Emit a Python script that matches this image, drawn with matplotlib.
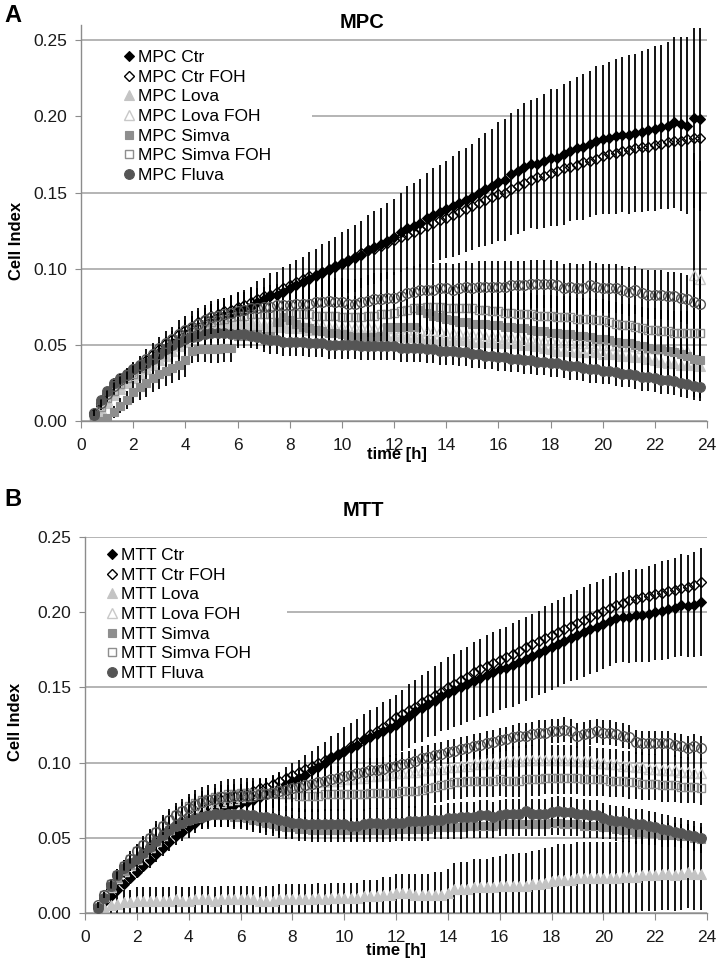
import numpy as np
import matplotlib.pyplot as plt
from matplotlib.lines import Line2D
from matplotlib.patches import Rectangle

plt.rcParams['font.family'] = ['Liberation Sans', 'DejaVu Sans']

# read-outs every 15 min, 0.5 h .. 23.75 h (94 points)
time_h = np.arange(0.5, 24.0, 0.25)

# ---------------- Panel A : MPC ----------------
mpc_ctr = [
    0.005, 0.010, 0.015, 0.019, 0.023, 0.027, 0.031, 0.034,
    0.038, 0.041, 0.045, 0.048, 0.051, 0.054, 0.057, 0.060,
    0.062, 0.064, 0.066, 0.068, 0.069, 0.070, 0.072, 0.073,
    0.075, 0.078, 0.080, 0.082, 0.083, 0.085, 0.087, 0.089,
    0.091, 0.093, 0.095, 0.097, 0.099, 0.101, 0.103, 0.105,
    0.107, 0.109, 0.112, 0.114, 0.116, 0.118, 0.121, 0.124,
    0.127, 0.128, 0.130, 0.133, 0.135, 0.137, 0.139, 0.141,
    0.143, 0.145, 0.147, 0.150, 0.152, 0.154, 0.157, 0.158,
    0.162, 0.164, 0.167, 0.169, 0.169, 0.171, 0.173, 0.173,
    0.175, 0.177, 0.179, 0.180, 0.182, 0.184, 0.185, 0.186,
    0.187, 0.188, 0.188, 0.189, 0.190, 0.191, 0.192, 0.193,
    0.194, 0.196, 0.195, 0.194, 0.199, 0.198]
mpc_ctr_foh = [
    0.005, 0.011, 0.016, 0.021, 0.025, 0.029, 0.033, 0.036,
    0.040, 0.044, 0.047, 0.051, 0.054, 0.057, 0.060, 0.062,
    0.065, 0.067, 0.069, 0.070, 0.072, 0.073, 0.075, 0.076,
    0.078, 0.080, 0.082, 0.083, 0.085, 0.087, 0.089, 0.091,
    0.093, 0.095, 0.096, 0.098, 0.100, 0.102, 0.104, 0.106,
    0.108, 0.110, 0.112, 0.113, 0.115, 0.117, 0.119, 0.121,
    0.122, 0.124, 0.126, 0.128, 0.130, 0.132, 0.133, 0.135,
    0.137, 0.139, 0.141, 0.143, 0.145, 0.147, 0.149, 0.150,
    0.152, 0.154, 0.156, 0.158, 0.160, 0.161, 0.163, 0.164,
    0.166, 0.167, 0.168, 0.170, 0.171, 0.172, 0.174, 0.175,
    0.176, 0.177, 0.178, 0.179, 0.180, 0.180, 0.181, 0.182,
    0.183, 0.184, 0.184, 0.185, 0.186, 0.186]
mpc_lova = [
    0.000, 0.006, 0.012, 0.017, 0.021, 0.025, 0.028, 0.031,
    0.034, 0.037, 0.040, 0.043, 0.046, 0.049, 0.052, 0.055,
    0.057, 0.059, 0.061, 0.062, 0.063, 0.063, 0.063, 0.064,
    0.064, 0.063, 0.063, 0.062, 0.062, 0.062, 0.061, 0.061,
    0.061, 0.060, 0.060, 0.060, 0.059, 0.059, 0.059, 0.058,
    0.058, 0.058, 0.057, 0.057, 0.057, 0.056, 0.056, 0.056,
    0.055, 0.055, 0.055, 0.054, 0.054, 0.054, 0.053, 0.053,
    0.053, 0.053, 0.052, 0.052, 0.052, 0.052, 0.051, 0.051,
    0.051, 0.051, 0.050, 0.050, 0.049, 0.048, 0.047, 0.046,
    0.046, 0.046, 0.045, 0.045, 0.045, 0.045, 0.044, 0.044,
    0.044, 0.043, 0.043, 0.042, 0.042, 0.041, 0.040, 0.039,
    0.038, 0.038, 0.037, 0.037, 0.037, 0.036]
mpc_lova_foh = [
    0.002, 0.008, 0.014, 0.019, 0.023, 0.027, 0.030, 0.034,
    0.037, 0.040, 0.043, 0.046, 0.049, 0.052, 0.055, 0.058,
    0.060, 0.062, 0.063, 0.064, 0.065, 0.065, 0.065, 0.065,
    0.065, 0.065, 0.064, 0.064, 0.064, 0.064, 0.064, 0.063,
    0.063, 0.063, 0.063, 0.063, 0.062, 0.062, 0.062, 0.062,
    0.062, 0.062, 0.062, 0.061, 0.061, 0.061, 0.061, 0.060,
    0.060, 0.060, 0.060, 0.059, 0.059, 0.059, 0.058, 0.058,
    0.058, 0.057, 0.057, 0.057, 0.056, 0.056, 0.056, 0.055,
    0.055, 0.055, 0.054, 0.054, 0.053, 0.053, 0.053, 0.052,
    0.052, 0.052, 0.051, 0.051, 0.051, 0.050, 0.050, 0.050,
    0.050, 0.049, 0.049, 0.049, 0.048, 0.048, 0.048, 0.047,
    0.047, 0.047, 0.046, 0.046, 0.096, 0.093]
mpc_simva = [
    0.000, 0.000, 0.002, 0.006, 0.010, 0.014, 0.019, 0.022,
    0.025, 0.028, 0.031, 0.033, 0.035, 0.037, 0.040, 0.046,
    0.047, 0.047, 0.047, 0.047, 0.048, 0.048, 0.056, 0.056,
    0.057, 0.057, 0.056, 0.056, 0.065, 0.068, 0.066, 0.064,
    0.062, 0.061, 0.060, 0.059, 0.058, 0.058, 0.057, 0.056,
    0.055, 0.055, 0.055, 0.055, 0.056, 0.062, 0.062, 0.062,
    0.062, 0.062, 0.073, 0.071, 0.069, 0.068, 0.067, 0.066,
    0.065, 0.065, 0.064, 0.064, 0.064, 0.063, 0.063, 0.062,
    0.062, 0.061, 0.061, 0.060, 0.059, 0.059, 0.058, 0.058,
    0.057, 0.057, 0.056, 0.056, 0.055, 0.054, 0.054, 0.053,
    0.052, 0.051, 0.051, 0.050, 0.049, 0.048, 0.047, 0.047,
    0.046, 0.045, 0.044, 0.043, 0.041, 0.040]
mpc_simva_foh = [
    0.003, 0.009, 0.015, 0.020, 0.024, 0.028, 0.031, 0.035,
    0.038, 0.041, 0.044, 0.047, 0.050, 0.053, 0.056, 0.059,
    0.061, 0.063, 0.065, 0.066, 0.067, 0.068, 0.069, 0.069,
    0.070, 0.070, 0.070, 0.070, 0.070, 0.070, 0.070, 0.070,
    0.070, 0.070, 0.069, 0.069, 0.069, 0.069, 0.068, 0.068,
    0.068, 0.068, 0.069, 0.069, 0.070, 0.070, 0.071, 0.072,
    0.073, 0.074, 0.074, 0.075, 0.075, 0.075, 0.074, 0.074,
    0.074, 0.074, 0.074, 0.073, 0.073, 0.072, 0.072, 0.071,
    0.071, 0.070, 0.070, 0.070, 0.069, 0.069, 0.069, 0.068,
    0.068, 0.068, 0.067, 0.067, 0.067, 0.066, 0.066, 0.065,
    0.064, 0.063, 0.063, 0.062, 0.061, 0.060, 0.060, 0.059,
    0.059, 0.058, 0.058, 0.058, 0.058, 0.058]
mpc_fluva = [
    0.004, 0.014, 0.020, 0.025, 0.028, 0.031, 0.034, 0.036,
    0.038, 0.041, 0.044, 0.047, 0.050, 0.052, 0.054, 0.055,
    0.056, 0.057, 0.058, 0.058, 0.058, 0.057, 0.057, 0.057,
    0.056, 0.055, 0.054, 0.053, 0.053, 0.052, 0.052, 0.052,
    0.052, 0.051, 0.051, 0.051, 0.050, 0.050, 0.050, 0.050,
    0.050, 0.049, 0.049, 0.049, 0.049, 0.049, 0.049, 0.048,
    0.048, 0.048, 0.048, 0.047, 0.047, 0.046, 0.046, 0.046,
    0.045, 0.045, 0.044, 0.044, 0.043, 0.043, 0.042, 0.042,
    0.041, 0.041, 0.040, 0.040, 0.039, 0.039, 0.038, 0.038,
    0.037, 0.036, 0.036, 0.035, 0.034, 0.034, 0.033, 0.033,
    0.032, 0.031, 0.031, 0.030, 0.029, 0.029, 0.028, 0.027,
    0.027, 0.026, 0.025, 0.024, 0.023, 0.022]
mpc_fluva_foh = [
    0.005, 0.012, 0.018, 0.023, 0.027, 0.030, 0.034, 0.037,
    0.041, 0.044, 0.048, 0.051, 0.054, 0.057, 0.060, 0.062,
    0.064, 0.066, 0.068, 0.069, 0.070, 0.071, 0.072, 0.073,
    0.074, 0.074, 0.075, 0.075, 0.076, 0.076, 0.076, 0.077,
    0.077, 0.077, 0.078, 0.078, 0.079, 0.078, 0.078, 0.077,
    0.077, 0.078, 0.079, 0.080, 0.080, 0.081, 0.081, 0.082,
    0.084, 0.085, 0.086, 0.086, 0.086, 0.087, 0.087, 0.086,
    0.087, 0.088, 0.087, 0.088, 0.088, 0.088, 0.088, 0.088,
    0.089, 0.089, 0.089, 0.090, 0.090, 0.090, 0.090, 0.089,
    0.087, 0.088, 0.087, 0.087, 0.089, 0.088, 0.087, 0.087,
    0.087, 0.086, 0.085, 0.086, 0.084, 0.083, 0.083, 0.083,
    0.082, 0.082, 0.081, 0.080, 0.078, 0.077]

# standard deviations (MPC)
mpc_ctr_sd = [
    0.002, 0.002, 0.003, 0.003, 0.004, 0.004, 0.005, 0.005,
    0.006, 0.006, 0.007, 0.007, 0.008, 0.008, 0.009, 0.009,
    0.010, 0.010, 0.011, 0.011, 0.012, 0.012, 0.013, 0.013,
    0.013, 0.014, 0.014, 0.015, 0.015, 0.016, 0.016, 0.017,
    0.017, 0.018, 0.018, 0.019, 0.019, 0.020, 0.021, 0.021,
    0.022, 0.022, 0.023, 0.024, 0.024, 0.025, 0.025, 0.026,
    0.027, 0.028, 0.029, 0.030, 0.031, 0.031, 0.032, 0.033,
    0.034, 0.034, 0.035, 0.036, 0.037, 0.038, 0.039, 0.040,
    0.040, 0.041, 0.042, 0.042, 0.043, 0.044, 0.045, 0.045,
    0.046, 0.046, 0.047, 0.048, 0.048, 0.049, 0.049, 0.050,
    0.051, 0.051, 0.052, 0.052, 0.053, 0.053, 0.054, 0.054,
    0.055, 0.056, 0.057, 0.058, 0.059, 0.060]
mpc_lova_sd = [
    0.001, 0.002, 0.002, 0.003, 0.003, 0.004, 0.004, 0.005,
    0.005, 0.006, 0.006, 0.007, 0.007, 0.008, 0.008, 0.008,
    0.009, 0.009, 0.009, 0.009, 0.010, 0.010, 0.010, 0.010,
    0.010, 0.010, 0.010, 0.010, 0.010, 0.010, 0.010, 0.010,
    0.010, 0.010, 0.010, 0.010, 0.010, 0.010, 0.010, 0.010,
    0.010, 0.010, 0.010, 0.010, 0.010, 0.010, 0.010, 0.010,
    0.010, 0.010, 0.010, 0.010, 0.010, 0.010, 0.010, 0.010,
    0.010, 0.010, 0.010, 0.010, 0.010, 0.010, 0.010, 0.010,
    0.010, 0.010, 0.010, 0.010, 0.010, 0.010, 0.010, 0.010,
    0.010, 0.010, 0.010, 0.010, 0.010, 0.010, 0.010, 0.010,
    0.010, 0.010, 0.010, 0.010, 0.010, 0.010, 0.010, 0.010,
    0.010, 0.010, 0.010, 0.010, 0.010, 0.010]
mpc_lova_foh_sd = [
    0.001, 0.002, 0.002, 0.003, 0.003, 0.003, 0.004, 0.004,
    0.004, 0.005, 0.005, 0.005, 0.005, 0.006, 0.006, 0.006,
    0.006, 0.006, 0.006, 0.006, 0.006, 0.006, 0.006, 0.006,
    0.006, 0.006, 0.006, 0.006, 0.006, 0.006, 0.006, 0.006,
    0.006, 0.006, 0.006, 0.006, 0.006, 0.006, 0.006, 0.006,
    0.006, 0.006, 0.006, 0.006, 0.006, 0.006, 0.006, 0.006,
    0.006, 0.006, 0.006, 0.006, 0.006, 0.006, 0.006, 0.006,
    0.006, 0.006, 0.006, 0.006, 0.006, 0.006, 0.006, 0.006,
    0.006, 0.006, 0.006, 0.006, 0.006, 0.006, 0.006, 0.006,
    0.006, 0.006, 0.006, 0.006, 0.006, 0.006, 0.006, 0.006,
    0.006, 0.006, 0.006, 0.006, 0.006, 0.006, 0.006, 0.006,
    0.006, 0.006, 0.006, 0.006, 0.080, 0.078]
mpc_simva_sd = [
    0.000, 0.001, 0.002, 0.004, 0.005, 0.006, 0.007, 0.008,
    0.009, 0.009, 0.010, 0.010, 0.010, 0.010, 0.011, 0.008,
    0.008, 0.008, 0.009, 0.009, 0.009, 0.009, 0.008, 0.008,
    0.008, 0.008, 0.008, 0.008, 0.009, 0.009, 0.009, 0.009,
    0.009, 0.009, 0.009, 0.009, 0.009, 0.009, 0.009, 0.009,
    0.009, 0.009, 0.009, 0.009, 0.009, 0.010, 0.010, 0.010,
    0.010, 0.010, 0.011, 0.011, 0.011, 0.011, 0.011, 0.011,
    0.011, 0.011, 0.011, 0.011, 0.011, 0.011, 0.011, 0.011,
    0.011, 0.011, 0.011, 0.011, 0.011, 0.011, 0.011, 0.011,
    0.011, 0.011, 0.011, 0.011, 0.011, 0.011, 0.011, 0.011,
    0.011, 0.011, 0.011, 0.011, 0.011, 0.011, 0.011, 0.011,
    0.011, 0.011, 0.011, 0.011, 0.011, 0.011]
mpc_simva_foh_sd = [
    0.002, 0.002, 0.003, 0.003, 0.003, 0.004, 0.004, 0.004,
    0.005, 0.005, 0.005, 0.006, 0.006, 0.006, 0.007, 0.007,
    0.008, 0.008, 0.009, 0.009, 0.010, 0.010, 0.010, 0.011,
    0.011, 0.011, 0.012, 0.012, 0.012, 0.013, 0.013, 0.013,
    0.013, 0.013, 0.013, 0.014, 0.014, 0.014, 0.014, 0.014,
    0.014, 0.014, 0.014, 0.014, 0.014, 0.014, 0.014, 0.014,
    0.014, 0.014, 0.014, 0.014, 0.014, 0.014, 0.014, 0.014,
    0.014, 0.014, 0.014, 0.014, 0.014, 0.014, 0.014, 0.014,
    0.014, 0.014, 0.014, 0.014, 0.014, 0.014, 0.014, 0.014,
    0.014, 0.014, 0.014, 0.014, 0.014, 0.014, 0.014, 0.014,
    0.014, 0.014, 0.014, 0.014, 0.014, 0.014, 0.014, 0.014,
    0.014, 0.014, 0.014, 0.014, 0.014, 0.014]
mpc_fluva_sd = [
    0.001, 0.002, 0.002, 0.003, 0.003, 0.003, 0.004, 0.004,
    0.004, 0.005, 0.005, 0.005, 0.006, 0.006, 0.006, 0.006,
    0.007, 0.007, 0.007, 0.007, 0.007, 0.007, 0.008, 0.008,
    0.008, 0.008, 0.009, 0.009, 0.009, 0.009, 0.009, 0.009,
    0.009, 0.009, 0.009, 0.009, 0.009, 0.009, 0.009, 0.009,
    0.009, 0.009, 0.009, 0.009, 0.009, 0.009, 0.009, 0.009,
    0.009, 0.009, 0.009, 0.009, 0.009, 0.009, 0.009, 0.009,
    0.009, 0.009, 0.009, 0.009, 0.009, 0.009, 0.009, 0.009,
    0.009, 0.009, 0.009, 0.009, 0.009, 0.009, 0.009, 0.009,
    0.009, 0.009, 0.009, 0.009, 0.009, 0.009, 0.009, 0.009,
    0.009, 0.009, 0.009, 0.009, 0.009, 0.009, 0.009, 0.009,
    0.009, 0.009, 0.009, 0.009, 0.009, 0.009]
mpc_fluva_foh_sd = [
    0.002, 0.003, 0.003, 0.004, 0.004, 0.005, 0.005, 0.006,
    0.006, 0.007, 0.007, 0.008, 0.008, 0.009, 0.009, 0.010,
    0.010, 0.010, 0.011, 0.011, 0.011, 0.012, 0.012, 0.012,
    0.013, 0.013, 0.013, 0.014, 0.014, 0.014, 0.015, 0.015,
    0.015, 0.015, 0.016, 0.016, 0.016, 0.016, 0.016, 0.016,
    0.016, 0.016, 0.017, 0.017, 0.017, 0.017, 0.017, 0.017,
    0.017, 0.017, 0.017, 0.017, 0.017, 0.017, 0.017, 0.017,
    0.017, 0.017, 0.017, 0.017, 0.017, 0.017, 0.017, 0.017,
    0.016, 0.016, 0.016, 0.016, 0.016, 0.016, 0.016, 0.016,
    0.016, 0.016, 0.016, 0.016, 0.016, 0.016, 0.016, 0.016,
    0.016, 0.016, 0.016, 0.016, 0.016, 0.016, 0.016, 0.016,
    0.016, 0.016, 0.016, 0.016, 0.016, 0.016]

# ---------------- Panel B : MTT ----------------
mtt_ctr = [
    0.003, 0.007, 0.011, 0.015, 0.019, 0.023, 0.027, 0.031,
    0.035, 0.039, 0.043, 0.047, 0.051, 0.054, 0.057, 0.060,
    0.063, 0.066, 0.068, 0.070, 0.071, 0.072, 0.073, 0.074,
    0.075, 0.077, 0.079, 0.081, 0.083, 0.085, 0.088, 0.090,
    0.092, 0.095, 0.097, 0.100, 0.103, 0.105, 0.108, 0.110,
    0.112, 0.115, 0.117, 0.119, 0.121, 0.123, 0.125, 0.128,
    0.131, 0.134, 0.136, 0.139, 0.141, 0.144, 0.146, 0.148,
    0.150, 0.152, 0.154, 0.156, 0.158, 0.160, 0.162, 0.163,
    0.165, 0.167, 0.169, 0.171, 0.173, 0.175, 0.177, 0.179,
    0.181, 0.183, 0.185, 0.187, 0.189, 0.190, 0.192, 0.194,
    0.196, 0.197, 0.197, 0.198, 0.198, 0.199, 0.200, 0.201,
    0.202, 0.203, 0.205, 0.204, 0.205, 0.207]
mtt_ctr_foh = [
    0.004, 0.010, 0.016, 0.022, 0.027, 0.032, 0.036, 0.040,
    0.044, 0.048, 0.052, 0.056, 0.059, 0.062, 0.065, 0.068,
    0.070, 0.072, 0.074, 0.075, 0.077, 0.078, 0.079, 0.080,
    0.081, 0.083, 0.084, 0.086, 0.088, 0.090, 0.092, 0.094,
    0.096, 0.098, 0.100, 0.102, 0.104, 0.106, 0.108, 0.111,
    0.114, 0.116, 0.119, 0.121, 0.124, 0.127, 0.130, 0.132,
    0.135, 0.137, 0.140, 0.142, 0.145, 0.147, 0.150, 0.152,
    0.155, 0.157, 0.160, 0.162, 0.164, 0.166, 0.168, 0.170,
    0.172, 0.174, 0.177, 0.179, 0.181, 0.183, 0.185, 0.187,
    0.189, 0.191, 0.193, 0.195, 0.197, 0.199, 0.201, 0.203,
    0.205, 0.206, 0.208, 0.209, 0.210, 0.211, 0.212, 0.213,
    0.214, 0.215, 0.216, 0.217, 0.218, 0.220]
mtt_lova = [
    0.000, 0.003, 0.005, 0.006, 0.007, 0.007, 0.008, 0.008,
    0.008, 0.008, 0.008, 0.008, 0.009, 0.008, 0.008, 0.009,
    0.009, 0.009, 0.008, 0.009, 0.009, 0.009, 0.009, 0.009,
    0.009, 0.008, 0.008, 0.008, 0.009, 0.009, 0.009, 0.009,
    0.009, 0.009, 0.010, 0.009, 0.010, 0.010, 0.010, 0.010,
    0.010, 0.011, 0.011, 0.011, 0.012, 0.012, 0.013, 0.013,
    0.013, 0.012, 0.012, 0.012, 0.012, 0.012, 0.013, 0.016,
    0.016, 0.016, 0.017, 0.017, 0.017, 0.017, 0.018, 0.018,
    0.018, 0.018, 0.018, 0.019, 0.019, 0.020, 0.021, 0.022,
    0.022, 0.022, 0.023, 0.023, 0.023, 0.023, 0.023, 0.023,
    0.023, 0.024, 0.024, 0.024, 0.025, 0.025, 0.025, 0.026,
    0.026, 0.025, 0.026, 0.027, 0.026, 0.026]
mtt_lova_foh = [
    0.004, 0.011, 0.017, 0.023, 0.028, 0.032, 0.036, 0.040,
    0.044, 0.048, 0.052, 0.056, 0.059, 0.062, 0.065, 0.067,
    0.069, 0.071, 0.072, 0.074, 0.075, 0.076, 0.077, 0.078,
    0.079, 0.080, 0.081, 0.082, 0.083, 0.083, 0.084, 0.085,
    0.085, 0.086, 0.087, 0.087, 0.088, 0.088, 0.089, 0.089,
    0.090, 0.090, 0.091, 0.091, 0.092, 0.092, 0.093, 0.093,
    0.094, 0.094, 0.095, 0.095, 0.096, 0.096, 0.097, 0.097,
    0.098, 0.098, 0.099, 0.099, 0.100, 0.100, 0.100, 0.101,
    0.101, 0.101, 0.102, 0.102, 0.102, 0.102, 0.102, 0.102,
    0.102, 0.102, 0.101, 0.101, 0.101, 0.100, 0.100, 0.099,
    0.099, 0.098, 0.098, 0.097, 0.097, 0.096, 0.096, 0.095,
    0.095, 0.095, 0.094, 0.094, 0.093, 0.093]
mtt_simva = [
    0.002, 0.010, 0.017, 0.023, 0.028, 0.032, 0.036, 0.040,
    0.044, 0.048, 0.052, 0.055, 0.058, 0.060, 0.062, 0.063,
    0.064, 0.065, 0.065, 0.065, 0.065, 0.064, 0.064, 0.063,
    0.062, 0.061, 0.060, 0.059, 0.058, 0.057, 0.057, 0.056,
    0.056, 0.055, 0.055, 0.055, 0.055, 0.055, 0.055, 0.055,
    0.055, 0.055, 0.055, 0.055, 0.055, 0.055, 0.056, 0.056,
    0.056, 0.056, 0.056, 0.056, 0.057, 0.057, 0.057, 0.057,
    0.057, 0.058, 0.058, 0.058, 0.058, 0.058, 0.059, 0.059,
    0.059, 0.059, 0.059, 0.059, 0.059, 0.059, 0.060, 0.060,
    0.059, 0.059, 0.059, 0.058, 0.058, 0.058, 0.057, 0.057,
    0.056, 0.055, 0.055, 0.054, 0.054, 0.053, 0.053, 0.052,
    0.052, 0.052, 0.051, 0.051, 0.050, 0.049]
mtt_simva_foh = [
    0.004, 0.012, 0.019, 0.025, 0.031, 0.036, 0.041, 0.045,
    0.050, 0.054, 0.058, 0.062, 0.065, 0.068, 0.071, 0.073,
    0.075, 0.076, 0.077, 0.078, 0.079, 0.079, 0.080, 0.080,
    0.080, 0.080, 0.080, 0.080, 0.079, 0.079, 0.079, 0.078,
    0.078, 0.078, 0.078, 0.079, 0.079, 0.079, 0.079, 0.079,
    0.079, 0.079, 0.080, 0.080, 0.080, 0.080, 0.080, 0.081,
    0.081, 0.081, 0.082, 0.083, 0.084, 0.085, 0.086, 0.087,
    0.087, 0.088, 0.088, 0.088, 0.088, 0.088, 0.089, 0.088,
    0.088, 0.088, 0.089, 0.089, 0.089, 0.090, 0.090, 0.090,
    0.090, 0.090, 0.090, 0.089, 0.089, 0.089, 0.089, 0.088,
    0.088, 0.088, 0.087, 0.087, 0.086, 0.086, 0.086, 0.085,
    0.085, 0.085, 0.084, 0.084, 0.084, 0.083]
mtt_fluva = [
    0.003, 0.010, 0.018, 0.025, 0.030, 0.033, 0.036, 0.040,
    0.044, 0.048, 0.052, 0.055, 0.058, 0.060, 0.062, 0.063,
    0.064, 0.065, 0.066, 0.066, 0.066, 0.066, 0.066, 0.065,
    0.065, 0.064, 0.064, 0.063, 0.062, 0.061, 0.060, 0.060,
    0.059, 0.059, 0.059, 0.059, 0.059, 0.059, 0.059, 0.058,
    0.058, 0.059, 0.060, 0.060, 0.059, 0.060, 0.060, 0.060,
    0.061, 0.061, 0.061, 0.062, 0.062, 0.062, 0.063, 0.063,
    0.064, 0.064, 0.064, 0.065, 0.065, 0.064, 0.065, 0.066,
    0.066, 0.066, 0.068, 0.066, 0.066, 0.066, 0.067, 0.068,
    0.067, 0.067, 0.066, 0.066, 0.065, 0.065, 0.063, 0.062,
    0.061, 0.061, 0.060, 0.059, 0.059, 0.058, 0.057, 0.056,
    0.055, 0.054, 0.053, 0.052, 0.051, 0.050]
mtt_fluva_foh = [
    0.005, 0.012, 0.019, 0.025, 0.031, 0.036, 0.041, 0.045,
    0.050, 0.054, 0.058, 0.062, 0.065, 0.068, 0.070, 0.072,
    0.074, 0.075, 0.076, 0.077, 0.077, 0.078, 0.078, 0.078,
    0.078, 0.079, 0.079, 0.080, 0.081, 0.082, 0.083, 0.084,
    0.085, 0.086, 0.087, 0.088, 0.089, 0.090, 0.091, 0.092,
    0.093, 0.094, 0.095, 0.095, 0.096, 0.097, 0.098, 0.099,
    0.100, 0.101, 0.103, 0.104, 0.105, 0.106, 0.107, 0.108,
    0.109, 0.110, 0.111, 0.112, 0.113, 0.114, 0.115, 0.116,
    0.117, 0.118, 0.118, 0.119, 0.120, 0.120, 0.121, 0.121,
    0.122, 0.121, 0.118, 0.119, 0.120, 0.121, 0.120, 0.120,
    0.119, 0.118, 0.117, 0.114, 0.113, 0.113, 0.113, 0.113,
    0.113, 0.112, 0.111, 0.110, 0.111, 0.110]

# standard deviations (MTT)
mtt_ctr_sd = [
    0.002, 0.002, 0.003, 0.003, 0.003, 0.004, 0.004, 0.004,
    0.005, 0.005, 0.005, 0.006, 0.006, 0.006, 0.007, 0.007,
    0.007, 0.008, 0.008, 0.008, 0.009, 0.009, 0.009, 0.010,
    0.010, 0.010, 0.011, 0.011, 0.011, 0.012, 0.012, 0.012,
    0.013, 0.013, 0.014, 0.014, 0.015, 0.015, 0.016, 0.016,
    0.017, 0.017, 0.018, 0.018, 0.019, 0.019, 0.020, 0.020,
    0.021, 0.021, 0.022, 0.022, 0.023, 0.023, 0.024, 0.024,
    0.025, 0.025, 0.026, 0.026, 0.027, 0.027, 0.027, 0.027,
    0.028, 0.028, 0.028, 0.028, 0.028, 0.029, 0.029, 0.029,
    0.029, 0.029, 0.030, 0.030, 0.030, 0.030, 0.030, 0.030,
    0.030, 0.030, 0.031, 0.031, 0.031, 0.032, 0.032, 0.033,
    0.033, 0.033, 0.034, 0.034, 0.035, 0.036]
mtt_lova_sd = [
    0.002, 0.004, 0.006, 0.007, 0.008, 0.008, 0.009, 0.009,
    0.009, 0.009, 0.009, 0.009, 0.009, 0.009, 0.009, 0.009,
    0.009, 0.009, 0.009, 0.009, 0.009, 0.009, 0.009, 0.009,
    0.009, 0.009, 0.010, 0.010, 0.010, 0.010, 0.010, 0.010,
    0.010, 0.010, 0.010, 0.010, 0.010, 0.010, 0.010, 0.010,
    0.010, 0.011, 0.011, 0.011, 0.012, 0.012, 0.013, 0.013,
    0.013, 0.014, 0.014, 0.014, 0.015, 0.015, 0.016, 0.017,
    0.018, 0.018, 0.019, 0.019, 0.019, 0.020, 0.020, 0.021,
    0.021, 0.022, 0.022, 0.022, 0.023, 0.023, 0.023, 0.024,
    0.024, 0.024, 0.024, 0.024, 0.024, 0.024, 0.024, 0.024,
    0.024, 0.024, 0.024, 0.024, 0.024, 0.024, 0.024, 0.024,
    0.024, 0.024, 0.024, 0.024, 0.024, 0.024]
mtt_lova_foh_sd = [
    0.002, 0.002, 0.003, 0.003, 0.004, 0.004, 0.004, 0.005,
    0.005, 0.005, 0.006, 0.006, 0.006, 0.007, 0.007, 0.007,
    0.008, 0.008, 0.008, 0.008, 0.009, 0.009, 0.009, 0.009,
    0.009, 0.009, 0.009, 0.009, 0.010, 0.010, 0.010, 0.010,
    0.010, 0.010, 0.010, 0.010, 0.010, 0.010, 0.010, 0.010,
    0.010, 0.010, 0.010, 0.010, 0.010, 0.010, 0.010, 0.010,
    0.010, 0.010, 0.010, 0.010, 0.010, 0.010, 0.010, 0.010,
    0.010, 0.010, 0.010, 0.010, 0.010, 0.010, 0.010, 0.010,
    0.010, 0.010, 0.010, 0.010, 0.010, 0.010, 0.010, 0.010,
    0.010, 0.010, 0.010, 0.010, 0.010, 0.010, 0.010, 0.010,
    0.010, 0.010, 0.010, 0.010, 0.010, 0.010, 0.010, 0.010,
    0.010, 0.010, 0.010, 0.010, 0.010, 0.010]
mtt_simva_sd = [
    0.001, 0.002, 0.003, 0.003, 0.004, 0.004, 0.005, 0.005,
    0.005, 0.006, 0.006, 0.006, 0.007, 0.007, 0.007, 0.007,
    0.008, 0.008, 0.008, 0.008, 0.008, 0.008, 0.008, 0.008,
    0.008, 0.008, 0.008, 0.008, 0.008, 0.008, 0.008, 0.008,
    0.008, 0.008, 0.008, 0.008, 0.008, 0.008, 0.008, 0.008,
    0.008, 0.008, 0.008, 0.008, 0.008, 0.008, 0.008, 0.008,
    0.008, 0.008, 0.008, 0.008, 0.008, 0.008, 0.008, 0.008,
    0.008, 0.008, 0.008, 0.008, 0.008, 0.008, 0.008, 0.008,
    0.008, 0.008, 0.008, 0.008, 0.008, 0.008, 0.008, 0.008,
    0.008, 0.008, 0.008, 0.008, 0.008, 0.008, 0.008, 0.008,
    0.008, 0.008, 0.008, 0.008, 0.008, 0.008, 0.008, 0.008,
    0.008, 0.008, 0.008, 0.008, 0.008, 0.008]
mtt_simva_foh_sd = [
    0.002, 0.003, 0.003, 0.004, 0.004, 0.005, 0.005, 0.006,
    0.006, 0.007, 0.007, 0.007, 0.008, 0.008, 0.008, 0.009,
    0.009, 0.009, 0.009, 0.010, 0.010, 0.010, 0.010, 0.010,
    0.010, 0.010, 0.010, 0.010, 0.011, 0.011, 0.011, 0.011,
    0.011, 0.011, 0.011, 0.011, 0.011, 0.011, 0.011, 0.011,
    0.011, 0.011, 0.011, 0.011, 0.011, 0.011, 0.011, 0.011,
    0.011, 0.011, 0.011, 0.011, 0.011, 0.011, 0.011, 0.011,
    0.011, 0.011, 0.011, 0.011, 0.011, 0.011, 0.011, 0.011,
    0.011, 0.011, 0.011, 0.011, 0.011, 0.011, 0.011, 0.011,
    0.011, 0.011, 0.011, 0.011, 0.011, 0.011, 0.011, 0.011,
    0.011, 0.011, 0.011, 0.011, 0.011, 0.011, 0.011, 0.011,
    0.011, 0.011, 0.011, 0.011, 0.011, 0.011]
mtt_fluva_sd = [
    0.002, 0.003, 0.003, 0.004, 0.004, 0.005, 0.005, 0.006,
    0.006, 0.006, 0.007, 0.007, 0.007, 0.008, 0.008, 0.008,
    0.008, 0.009, 0.009, 0.009, 0.009, 0.009, 0.009, 0.009,
    0.010, 0.010, 0.010, 0.010, 0.010, 0.010, 0.010, 0.010,
    0.010, 0.010, 0.010, 0.010, 0.010, 0.010, 0.010, 0.010,
    0.010, 0.010, 0.010, 0.010, 0.010, 0.010, 0.010, 0.010,
    0.010, 0.010, 0.010, 0.010, 0.010, 0.010, 0.010, 0.010,
    0.010, 0.010, 0.010, 0.010, 0.010, 0.010, 0.010, 0.010,
    0.010, 0.010, 0.010, 0.010, 0.010, 0.010, 0.010, 0.010,
    0.010, 0.010, 0.010, 0.010, 0.010, 0.010, 0.010, 0.010,
    0.010, 0.010, 0.010, 0.010, 0.010, 0.010, 0.010, 0.010,
    0.010, 0.010, 0.010, 0.010, 0.010, 0.010]
mtt_fluva_foh_sd = [
    0.002, 0.002, 0.003, 0.003, 0.004, 0.004, 0.004, 0.005,
    0.005, 0.005, 0.006, 0.006, 0.006, 0.006, 0.007, 0.007,
    0.007, 0.007, 0.007, 0.008, 0.008, 0.008, 0.008, 0.008,
    0.008, 0.008, 0.008, 0.008, 0.008, 0.008, 0.008, 0.008,
    0.008, 0.008, 0.008, 0.008, 0.008, 0.008, 0.008, 0.008,
    0.008, 0.008, 0.008, 0.008, 0.008, 0.008, 0.008, 0.008,
    0.008, 0.008, 0.008, 0.008, 0.008, 0.008, 0.008, 0.008,
    0.008, 0.008, 0.008, 0.008, 0.008, 0.008, 0.008, 0.008,
    0.008, 0.008, 0.008, 0.008, 0.008, 0.008, 0.008, 0.008,
    0.008, 0.008, 0.008, 0.008, 0.008, 0.008, 0.008, 0.008,
    0.008, 0.008, 0.008, 0.008, 0.008, 0.008, 0.008, 0.008,
    0.008, 0.008, 0.008, 0.008, 0.008, 0.008]

treatments = ['Ctr', 'Ctr FOH', 'Lova', 'Lova FOH', 'Simva', 'Simva FOH', 'Fluva', 'Fluva FOH']

# marker styles, one per treatment (Fluva FOH is plotted but not in the legend)
styles = {
    'Ctr':       dict(marker='D', ms=5.0, mfc='black', mec='black', mew=0.8),
    'Ctr FOH':   dict(marker='D', ms=5.0, mfc='none', mec='black', mew=1.0),
    'Lova':      dict(marker='^', ms=6.8, mfc='#c4c4c4', mec='#c4c4c4', mew=0.8),
    'Lova FOH':  dict(marker='^', ms=6.8, mfc='none', mec='#c8c8c8', mew=1.0),
    'Simva':     dict(marker='s', ms=5.8, mfc='#8e8e8e', mec='#8e8e8e', mew=0.8),
    'Simva FOH': dict(marker='s', ms=5.8, mfc='none', mec='#8e8e8e', mew=1.0),
    'Fluva':     dict(marker='o', ms=7.0, mfc='#555555', mec='#555555', mew=0.8),
    'Fluva FOH': dict(marker='o', ms=7.0, mfc='none', mec='#555555', mew=1.0),
}

mpc_values = [mpc_ctr, mpc_ctr_foh, mpc_lova, mpc_lova_foh, mpc_simva, mpc_simva_foh, mpc_fluva, mpc_fluva_foh]
mpc_errors = [mpc_ctr_sd, None, mpc_lova_sd, mpc_lova_foh_sd, mpc_simva_sd, mpc_simva_foh_sd, mpc_fluva_sd, mpc_fluva_foh_sd]
mtt_values = [mtt_ctr, mtt_ctr_foh, mtt_lova, mtt_lova_foh, mtt_simva, mtt_simva_foh, mtt_fluva, mtt_fluva_foh]
mtt_errors = [mtt_ctr_sd, None, mtt_lova_sd, mtt_lova_foh_sd, mtt_simva_sd, mtt_simva_foh_sd, mtt_fluva_sd, mtt_fluva_foh_sd]

W, H = 722, 966
fig = plt.figure(figsize=(W / 100, H / 100), dpi=100)

GRID = '#a0a0a0'
SPINE = '#8c8c8c'
TXT = '#1a1a1a'


def px_axes(left, right, bottom, top):
    return fig.add_axes([left / W, 1 - bottom / H, (right - left) / W, (bottom - top) / H])


def draw_panel(ax, prefix, values, errors, ymax, leg_xy, mask):
    for i, name in enumerate(treatments):
        st = styles[name]
        y = np.array(values[i])
        if errors[i] is not None:
            ax.errorbar(time_h, y, yerr=np.array(errors[i]), ls='none', ecolor='black',
                        elinewidth=1.3, capsize=0, zorder=2 + i * 0.1, **st)
        else:
            ax.plot(time_h, y, ls='none', zorder=2 + i * 0.1, **st)

    ax.set_xlim(0, 24)
    ax.set_ylim(0, ymax)
    ax.set_xticks(np.arange(0, 25, 2))
    ax.set_yticks(np.arange(0, 0.26, 0.05))
    ax.set_yticklabels([f'{v:.2f}' for v in np.arange(0, 0.26, 0.05)])
    ax.set_axisbelow(True)
    ax.yaxis.grid(True, color=GRID, lw=1.1)
    for side in ['top', 'right']:
        ax.spines[side].set_visible(False)
    for side in ['left', 'bottom']:
        ax.spines[side].set_color(SPINE)
        ax.spines[side].set_linewidth(1.0)
    ax.tick_params(axis='both', direction='out', color=SPINE, labelsize=12.5, labelcolor=TXT)
    ax.tick_params(axis='y', length=4, pad=6)
    ax.tick_params(axis='x', length=5, pad=7)

    # white area behind the legend hides the 0.20 gridline, as in the original
    ax.add_patch(Rectangle((0, mask[0]), mask[2], mask[1] - mask[0], transform=ax.transAxes,
                           facecolor='white', edgecolor='none', zorder=1))

    handles = [Line2D([], [], ls='none', **styles[n]) for n in treatments[:7]]
    labels = [f'{prefix} {n}' for n in treatments[:7]]
    ax.legend(handles, labels, loc='upper left', bbox_to_anchor=leg_xy, frameon=False,
              fontsize=12.5, handlelength=0.8, handletextpad=0.15, borderpad=0,
              borderaxespad=0, labelspacing=0.26, numpoints=1)


# panel A
axA = px_axes(81, 707, 421, 25)
draw_panel(axA, 'MPC', mpc_values, mpc_errors, 0.26, ((122 - 81) / 626, (421 - 50) / 396),
           ((421 - 186) / 396, (421 - 46) / 396, (312 - 81) / 626))

# panel B
axB = px_axes(85, 707, 913, 537)
draw_panel(axB, 'MTT', mtt_values, mtt_errors, 0.25, ((105 - 85) / 622, (913 - 548) / 376),
           ((913 - 682) / 376, (913 - 542) / 376, (287 - 85) / 622))

# titles, panel letters and axis labels
fig.text(13 / W, 1 - 16 / H, 'A', fontsize=17, fontweight='bold', ha='center', va='center')
fig.text(13 / W, 1 - 500 / H, 'B', fontsize=17, fontweight='bold', ha='center', va='center')
fig.text(362 / W, 1 - 22 / H, 'MPC', fontsize=14.5, fontweight='bold', ha='center', va='center')
fig.text(363 / W, 1 - 510 / H, 'MTT', fontsize=14.5, fontweight='bold', ha='center', va='center')
fig.text(17 / W, 1 - 241 / H, 'Cell Index', fontsize=12, fontweight='bold', rotation=90,
         ha='center', va='center')
fig.text(16 / W, 1 - 722 / H, 'Cell Index', fontsize=12, fontweight='bold', rotation=90,
         ha='center', va='center')
fig.text(397 / W, 1 - 455 / H, 'time [h]', fontsize=12, fontweight='bold', ha='center', va='center')
fig.text(396 / W, 1 - 950 / H, 'time [h]', fontsize=12, fontweight='bold', ha='center', va='center')

fig.savefig('out.png', dpi=100)
